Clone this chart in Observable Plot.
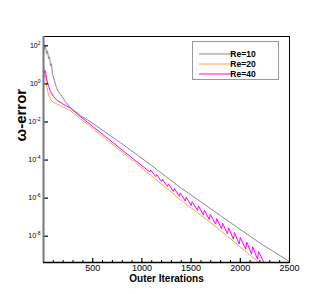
<!DOCTYPE html>
<html><head><meta charset="utf-8">
<script src="https://cdn.jsdelivr.net/npm/d3@7"></script>
<script src="https://cdn.jsdelivr.net/npm/@observablehq/plot@0.6"></script>
<style>body{margin:0;background:#fff}</style>
</head><body><div id="chart"></div>
<script>
// Outer iteration and log10(omega-error)
const re10Iter = [0,10,20,30,41,51,61,71,81,91,112,132,152,183,224,274,376,478,783,1087,1392,1799,2205,2500];
const re10Exp  = [2.26,1.84,2.0,1.58,1.74,1.32,1.42,0.95,1.06,0.53,0.16,-0.20,-0.41,-0.62,-0.94,-1.25,-1.67,-1.99,-3.09,-4.24,-5.45,-6.92,-8.38,-9.33];

const re20Iter = [0,10,20,30,51,71,91,132,193,274,376,579,884,1392,1799,2185];
const re20Exp  = [0.69,0.37,0.48,-0.05,-0.57,-0.78,-0.94,-1.04,-1.20,-1.41,-1.83,-2.67,-3.93,-6.08,-7.70,-9.36];

const re40Iter = [0,10,20,30,51,71,102,142,193,274,376,579,884,
  1080,1090,1140,1150,1200,1210,1260,1270,1320,1330,1380,1390,1440,1450,1500,1510,
  1565,1575,1625,1635,1685,1695,1750,1760,1810,1820,1870,1880,1930,1940,1990,2000,
  2055,2065,2115,2125,2175,2185,2240];
const re40Exp  = [0.90,0.58,0.69,0.27,-0.10,-0.41,-0.67,-0.88,-1.04,-1.27,-1.72,-2.56,-3.82,
  -4.62,-4.52,-4.87,-4.76,-5.13,-5.01,-5.39,-5.25,-5.65,-5.49,-5.91,-5.72,-6.15,-5.95,-6.39,-6.18,
  -6.64,-6.41,-6.88,-6.63,-7.13,-6.86,-7.37,-7.08,-7.62,-7.32,-7.88,-7.56,-8.15,-7.81,-8.41,-8.06,
  -8.68,-8.31,-8.94,-8.55,-9.21,-8.80,-9.37];

const seriesNames  = ["Re=10","Re=20","Re=40"];
const seriesColors = ["#8a8a8a","#ffa54f","#ff00ff"];
const xTicks = [500,1000,1500,2000,2500];
const xMinorTicks = [100,200,300,400,600,700,800,900,1100,1200,1300,1400,1600,1700,1800,1900,2100,2200,2300,2400];
const yTickExp = [2,0,-2,-4,-6,-8];
const xLabel = "Outer Iterations";
const yLabel = "ω-error";

function rows(name, iters, exps){ return iters.map((it,i)=>({series:name, it, err: 10**exps[i]})); }
const data = [
  ...rows(seriesNames[0], re10Iter, re10Exp),
  ...rows(seriesNames[1], re20Iter, re20Exp),
  ...rows(seriesNames[2], re40Iter, re40Exp)
];
const yTicks = yTickExp.map(e => 10**e);
const yDomain = [10**-9.38, 10**2.49];

const W=330, H=294, mL=43, mR=41, mT=36, mB=32;
const plotW = W-mL-mR, plotH = H-mT-mB;
const font = "'Liberation Sans', Arial, Helvetica, sans-serif";

const plot = Plot.plot({
  width: W, height: H, marginLeft: mL, marginRight: mR, marginTop: mT, marginBottom: mB,
  style: {fontFamily: font, background: "white", color: "black"},
  x: {domain: [0, 2500]},
  y: {type: "log", domain: yDomain},
  color: {domain: seriesNames, range: seriesColors},
  marks: [
    Plot.line(data, {x: "it", y: "err", z: "series", stroke: "series", strokeWidth: 1, clip: true}),
    Plot.ruleX(xTicks, {stroke: "black", strokeWidth: 1.2, insetTop: plotH - 4}),
    Plot.ruleX(xMinorTicks, {stroke: "black", strokeWidth: 1, insetTop: plotH - 2}),
    Plot.ruleY(yTicks, {stroke: "black", strokeWidth: 1.2, insetRight: plotW - 5}),
    Plot.frame({stroke: "black"}),
    Plot.ruleX([0], {stroke: "#777", strokeWidth: 2}),
    Plot.ruleY([yDomain[0]], {stroke: "black", strokeWidth: 1.5}),
    Plot.axisX({ticks: xTicks, tickSize: 0, tickPadding: 2, fontSize: 9, tickFormat: d => String(d), label: null}),
    Plot.axisY({ticks: yTicks, tickSize: 0, tickPadding: 3, fontSize: 7, tickFormat: d => "10^" + Math.round(Math.log10(d)), label: null}),
    Plot.text([xLabel], {frameAnchor: "bottom", lineAnchor: "bottom", dy: 19, fontSize: 10, fontWeight: "bold"}),
    Plot.text([yLabel], {frameAnchor: "left", dx: -22, dy: -8, rotate: -90, fontSize: 15, fontWeight: "bold"})
  ]
});

// superscript exponents on y tick labels
d3.select(plot).selectAll("g[aria-label='y-axis tick label'] text").each(function(){
  const t = this.textContent;
  const m = t.match(/^10\^(-?\d+)$/);
  if (!m) return;
  const sel = d3.select(this);
  sel.text(null);
  sel.append("tspan").text("10");
  sel.append("tspan").attr("dy", "-3").attr("font-size", 5).text(m[1]);
});

// legend box
const svg = d3.select(plot);
const lg = svg.append("g").attr("font-family", font);
lg.append("rect").attr("x", 192.5).attr("y", 41.5).attr("width", 86).attr("height", 38)
  .attr("fill", "white").attr("stroke", "#999");
seriesNames.forEach((n, i) => {
  const yy = 54 + 10 * i;
  lg.append("line").attr("x1", 199).attr("x2", 233).attr("y1", yy).attr("y2", yy)
    .attr("stroke", seriesColors[i]).attr("stroke-width", 1);
  lg.append("text").attr("x", 243).attr("y", yy).attr("dy", "0.35em")
    .attr("font-size", 8.5).attr("font-weight", "bold").text(n);
});

document.getElementById("chart").appendChild(plot);
</script>
</body></html>
